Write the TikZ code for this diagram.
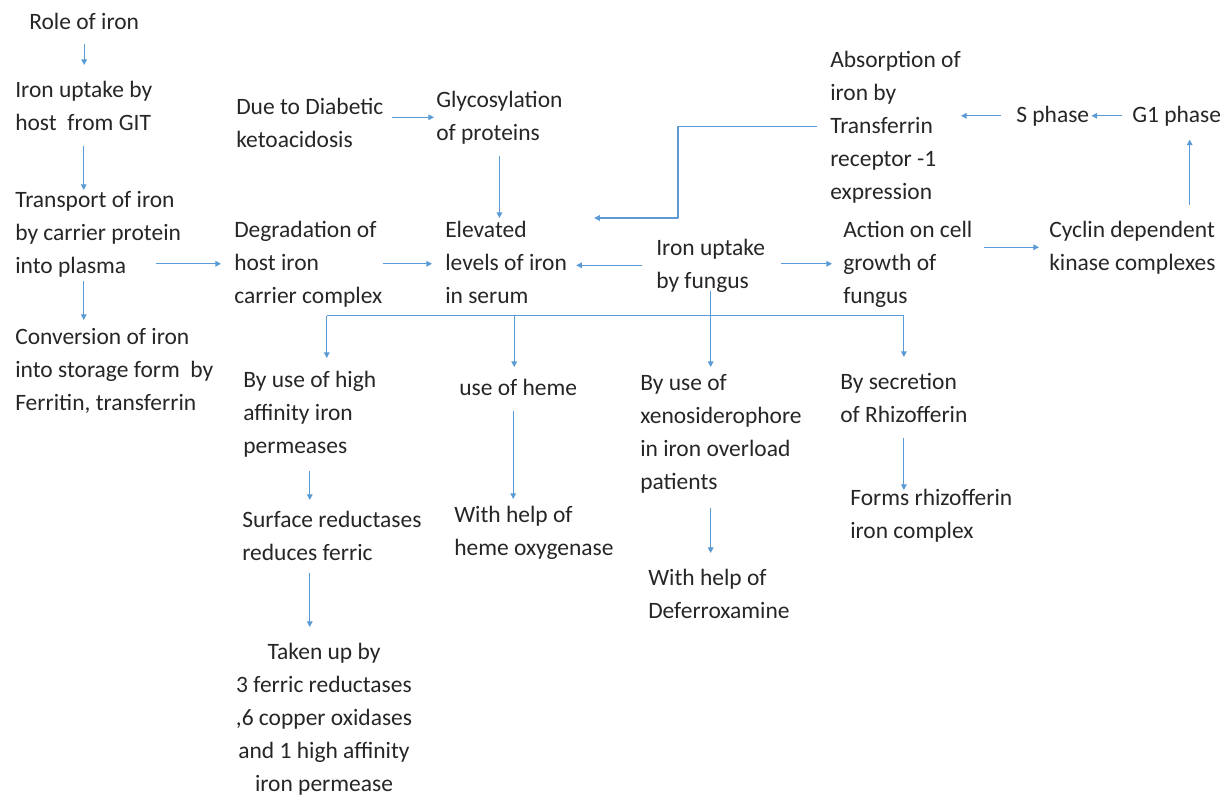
\documentclass[tikz,border=0pt]{standalone}
\usepackage{fontspec}
\setmainfont{Carlito}
\usepackage{tikz}
\usepackage{xcolor}
\usetikzlibrary{arrows.meta}

\definecolor{linkblue}{RGB}{91,155,213}

\tikzset{
	txt/.style={anchor=north west, inner sep=0, align=left, text=black!85,
		font=\fontsize{16.7}{23.47}\selectfont,
		execute at begin node=\strut, execute at end node=\strut},
	link/.style={draw=linkblue, line width=0.75pt, line join=round},
	arr/.style={link, -{Triangle[length=4pt,width=4pt]}}
}

\begin{document}
\begin{tikzpicture}[x=0.025cm,y=-0.025cm]
	\useasboundingbox (0,0) rectangle (1226,796);

	\node[txt] (role) at (29,6) {Role of iron};
	\node[txt] (hostgit) at (15,74) {\strut Iron uptake by\\host~ from GIT};
	\node[txt] (transport) at (15,184) {\strut Transport of iron\\by carrier protein\\into plasma};
	\node[txt] (storage) at (15,321) {\strut Conversion of iron\\into storage form~ by\\Ferritin, transferrin};

	\node[txt] (dka) at (236,91) {\strut Due to Diabetic\\ketoacidosis};
	\node[txt] (glyco) at (436,84) {\strut Glycosylation\\of proteins};
	\node[txt] (degrade) at (234,214) {\strut Degradation of\\host iron\\carrier complex};
	\node[txt] (elevated) at (445,214) {\strut Elevated\\levels of iron\\in serum};
	\node[txt] (fungus) at (656,232) {\strut Iron uptake\\by fungus};
	\node[txt] (growth) at (843,214) {\strut Action on cell\\growth of\\fungus};
	\node[txt] (cyclin) at (1049,214) {\strut Cyclin dependent\\kinase complexes};
	\node[txt] (gone) at (1132,99) {G1 phase};
	\node[txt] (sphase) at (1016,99) {S phase};
	\node[txt] (receptor) at (830,44) {\strut Absorption of\\iron by\\Transferrin\\receptor -1\\expression};

	\node[txt] (highaff) at (243,364) {\strut By use of high\\affinity iron\\permeases};
	\node[txt] (heme) at (459,372) {use of heme};
	\node[txt] (xeno) at (640,367) {\strut By use of\\xenosiderophore\\in iron overload\\patients};
	\node[txt] (rhizo) at (840,366) {\strut By secretion\\of Rhizofferin};
	\node[txt] (reduct) at (242,504) {\strut Surface reductases\\reduces ferric};
	\node[txt] (oxygenase) at (454,499) {\strut With help of\\heme oxygenase};
	\node[txt] (deferox) at (648,562) {\strut With help of\\Deferroxamine};
	\node[txt] (complex) at (850,482) {\strut Forms rhizofferin\\iron complex};
	\node[txt, anchor=north, align=center] (takenup) at (324,636) {\strut Taken up by\\3 ferric reductases\\,6 copper oxidases\\and 1 high affinity\\iron permease};

	\draw[arr, shorten <=1mm, shorten >=2.25mm] (role.south) -- (role.south |- hostgit.north);
	\draw[arr, shorten <=1.25mm, shorten >=-1.5mm] (hostgit.south) -- (hostgit.south |- transport.north);
	\draw[arr, shorten <=-0.75mm, shorten >=0.25mm] (hostgit.south |- transport.south) -- (hostgit.south |- storage.north);
	\draw[arr, shorten >=3.25mm] (degrade.west) ++(-78,0) -- (degrade.west);

	\draw[arr, shorten <=2mm, shorten >=0.5mm] (dka.east |- glyco.west) -- (glyco.west);
	\draw[arr, shorten <=1.25mm, shorten >=-1mm] (glyco.south) -- (glyco.south |- elevated.north);
	\draw[arr, shorten >=3.25mm] (degrade.east) -- (elevated.west);
	\draw[arr, shorten <=3.5mm, shorten >=2.25mm] (fungus.west) -- (fungus.west -| elevated.east);
	\draw[arr, shorten <=4mm, shorten >=2.75mm] (fungus.east |- growth.west) -- (growth.west);
	\draw[arr, shorten <=2.75mm, shorten >=2.5mm] (growth.east |- cyclin.west) -- (cyclin.west);
	\draw[arr, shorten <=2.25mm, shorten >=1.75mm] ([xshift=3.25mm]gone.south |- cyclin.north) -- ([xshift=3.25mm]gone.south);
	\draw[arr, shorten <=2.5mm, shorten >=0.5mm] (gone.west) -- (sphase.east);
	\draw[arr, shorten <=3.75mm] (sphase.west) -- (sphase.west -| receptor.east);
	\draw[arr, shorten <=3.25mm, shorten >=6.75mm] (receptor.west) -- ++(-152,0) |- ([yshift=-1mm]elevated.north east);

	% fungus branches
	\coordinate (split) at ([yshift=-4.25mm]fungus.south);
	\draw[arr, shorten <=-2mm] (fungus.south) -- (fungus.south |- xeno.north);
	\draw[link] ([xshift=4.25mm]highaff.north |- split) -- (rhizo.north |- split);
	\draw[arr, shorten >=1.5mm] ([xshift=4.25mm]highaff.north |- split) -- ([xshift=4.25mm]highaff.north);
	\draw[arr, shorten >=1.25mm] ([xshift=-1mm]heme.north |- split) -- ([xshift=-1mm]heme.north);
	\draw[arr, shorten >=2.25mm] (rhizo.north |- split) -- (rhizo.north);

	\draw[arr, shorten <=1.75mm, shorten >=1mm] (highaff.south) -- (highaff.south |- reduct.north);
	\draw[arr, shorten <=0.5mm, shorten >=2.25mm] (highaff.south |- reduct.south) -- (highaff.south |- takenup.north);
	\draw[arr, shorten <=1.25mm] ([xshift=-1.25mm]heme.south) -- ([xshift=-1.25mm]heme.south |- oxygenase.north);
	\draw[arr, shorten <=2mm, shorten >=2.25mm] (fungus.south |- xeno.south) -- (fungus.south |- deferox.north);
	\draw[arr, shorten <=1.25mm, shorten >=-2mm] (rhizo.south) -- (rhizo.south |- complex.north);
\end{tikzpicture}
\end{document}
